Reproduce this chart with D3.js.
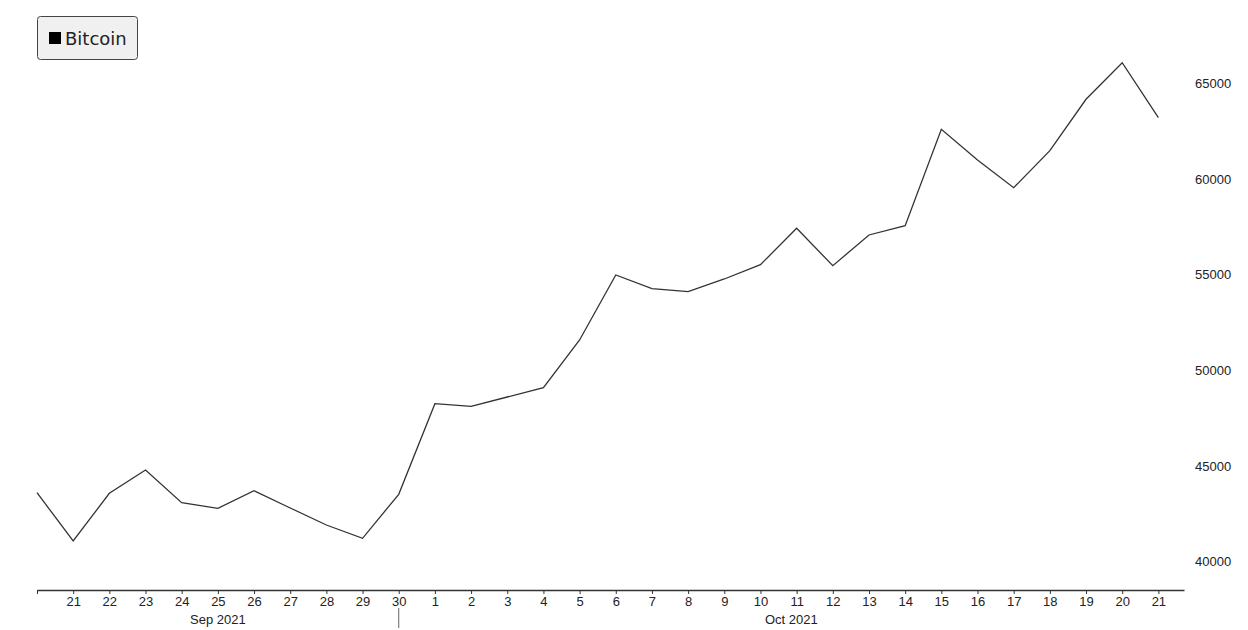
<!DOCTYPE html>
<html>
<head>
    <meta charset="utf-8">
    <title>Bitcoin</title>
    <script src="https://d3js.org/d3.v7.min.js"></script>
    <style>
        body { margin: 0; padding: 0; background: #fff; }
        text { font-family: "Liberation Sans", Arial, sans-serif; fill: #222; }
    </style>
</head>
<body>
    <svg width="1248" height="630"></svg>
    <script>
        // daily closes, Sep 20 - Oct 21 2021
        const startDay = "2021-09-20";
        const prices = [
            43606, 41082, 43575, 44792, 43083, 42791, 43710, 42806, 41918, 41223, 43522,
            48257, 48121, 48607, 49093, 51586, 54983, 54267, 54110, 54774, 55521,
            57423, 55469, 57073, 57559, 62597, 60993, 59545, 61479, 64165, 66078, 63203
        ];
        const yTicks = [40000, 45000, 50000, 55000, 60000, 65000];
        const months = ["Sep 2021", "Oct 2021"];
        const seriesName = "Bitcoin";

        const svg = d3.select("svg");
        const parse = d3.timeParse("%Y-%m-%d");
        const dates = prices.map((p, i) => d3.timeDay.offset(parse(startDay), i));
        const data = dates.map((d, i) => ({ date: d, value: prices[i] }));

        const last = dates[dates.length - 1];
        const x = d3.scaleTime()
            .domain([dates[0], d3.timeHour.offset(last, 17)])
            .range([37, 1184]);
        const y = d3.scaleLinear()
            .domain([40000, 65000])
            .range([561.7, 83.3]);

        // x axis
        const xAxis = svg.append("g")
            .attr("transform", "translate(0,590)")
            .call(d3.axisBottom(x)
                .tickValues(dates)
                .tickSize(4)
                .tickSizeOuter(0)
                .tickPadding(3)
                .tickFormat(d3.timeFormat("%-d")));
        xAxis.select(".domain").attr("stroke", "#333").attr("stroke-width", 1.3);
        xAxis.selectAll(".tick line").attr("stroke", "#333");
        xAxis.selectAll(".tick text")
            .style("font-size", "13px")
            .attr("fill", "#222")
            .filter((d, i) => i === 0).remove();

        // month labels + separator
        const oct1 = d3.timeMonth.ceil(dates[0]);
        const sepEnd = d3.timeDay.offset(oct1, -1);
        const monthMid = [
            (x(dates[0]) + x(sepEnd)) / 2,
            (x(sepEnd) + x.range()[1]) / 2
        ];
        svg.selectAll(".month").data(months).enter().append("text")
            .attr("class", "month")
            .attr("x", (d, i) => monthMid[i])
            .attr("y", 624)
            .attr("text-anchor", "middle")
            .style("font-size", "13px")
            .text(d => d);
        svg.append("line")
            .attr("x1", x(sepEnd)).attr("x2", x(sepEnd))
            .attr("y1", 608).attr("y2", 628)
            .attr("stroke", "#666").attr("stroke-width", 1);

        // y labels on the right, no axis line
        svg.selectAll(".ylab").data(yTicks).enter().append("text")
            .attr("class", "ylab")
            .attr("x", 1195)
            .attr("y", d => y(d))
            .attr("dy", "0.35em")
            .style("font-size", "13px")
            .text(d => d);

        // line
        const line = d3.line()
            .x(d => x(d.date))
            .y(d => y(d.value));
        svg.append("path")
            .datum(data)
            .attr("fill", "none")
            .attr("stroke", "#333")
            .attr("stroke-width", 1.3)
            .attr("d", line);

        // legend
        const lg = svg.append("g");
        lg.append("rect")
            .attr("x", 37.5).attr("y", 16.5)
            .attr("width", 100).attr("height", 43)
            .attr("rx", 3)
            .attr("fill", "#f0f0f0")
            .attr("stroke", "#444");
        lg.append("rect")
            .attr("x", 49).attr("y", 32)
            .attr("width", 12).attr("height", 12)
            .attr("fill", "#000");
        lg.append("text")
            .attr("x", 65).attr("y", 45)
            .style("font-family", "'DejaVu Sans', sans-serif")
            .style("font-size", "18px")
            .text(seriesName);
    </script>
</body>
</html>
